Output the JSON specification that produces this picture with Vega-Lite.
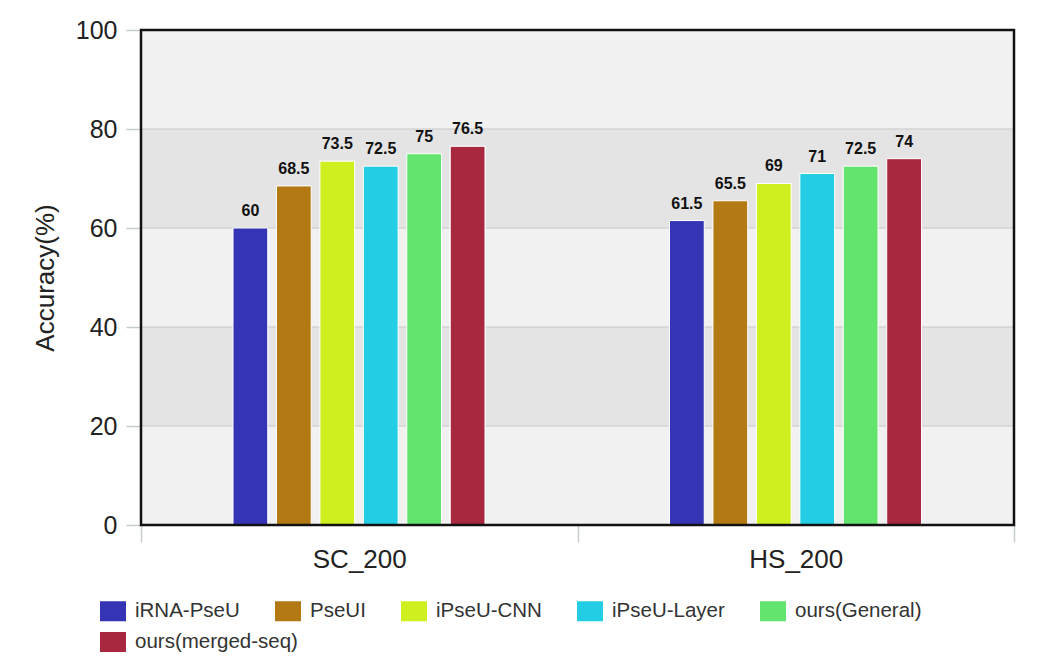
{
  "$schema": "https://vega.github.io/schema/vega-lite/v6.json",
  "width": 873,
  "height": 495,
  "autosize": {"type": "none"},
  "padding": {"left": 141, "top": 30, "right": 24, "bottom": 137},
  "background": "white",
  "config": {
    "view": {"stroke": null},
    "font": "Liberation Sans",
    "legend": {
      "orient": "none",
      "direction": "horizontal",
      "title": null,
      "symbolType": "M-1,-0.77H1V0.77H-1Z",
      "symbolSize": 676,
      "symbolStrokeWidth": 0,
      "symbolOpacity": 1,
      "labelFontSize": 20.5,
      "labelFont": "Liberation Sans",
      "labelColor": "#333",
      "labelOffset": 9,
      "columnPadding": 35,
      "labelLimit": 400
    },
    "axisY": {
      "grid": false,
      "domain": false,
      "tickSize": 15,
      "tickColor": "#c4ccd0",
      "tickWidth": 1.5,
      "labelFontSize": 25,
      "labelColor": "#222",
      "labelPadding": 9,
      "titleFontSize": 26,
      "titleFontWeight": "normal",
      "titleColor": "#222",
      "titlePadding": 17
    },
    "axisX": {
      "grid": false,
      "domain": false,
      "tickBand": "extent",
      "tickSize": 17,
      "tickColor": "#c4ccd0",
      "tickWidth": 1.5,
      "labelFontSize": 26,
      "labelColor": "#222",
      "labelPadding": 4,
      "labelAngle": 0,
      "title": null
    }
  },
  "datasets": {
    "bars": [
      {"dataset": "SC_200", "method": "iRNA-PseU", "acc": 60},
      {"dataset": "SC_200", "method": "PseUI", "acc": 68.5},
      {"dataset": "SC_200", "method": "iPseU-CNN", "acc": 73.5},
      {"dataset": "SC_200", "method": "iPseU-Layer", "acc": 72.5},
      {"dataset": "SC_200", "method": "ours(General)", "acc": 75},
      {"dataset": "SC_200", "method": "ours(merged-seq)", "acc": 76.5},
      {"dataset": "HS_200", "method": "iRNA-PseU", "acc": 61.5},
      {"dataset": "HS_200", "method": "PseUI", "acc": 65.5},
      {"dataset": "HS_200", "method": "iPseU-CNN", "acc": 69},
      {"dataset": "HS_200", "method": "iPseU-Layer", "acc": 71},
      {"dataset": "HS_200", "method": "ours(General)", "acc": 72.5},
      {"dataset": "HS_200", "method": "ours(merged-seq)", "acc": 74}
    ],
    "bands": [{"lo": 20, "hi": 40}, {"lo": 60, "hi": 80}],
    "frame": [{"f": 1}]
  },
  "layer": [
    {
      "data": {"name": "frame"},
      "mark": {"type": "rect", "fill": "#f1f1f1", "strokeWidth": 0},
      "encoding": {}
    },
    {
      "data": {"name": "bands"},
      "mark": {"type": "rect", "fill": "#e4e4e4", "stroke": "#c8c8c8", "strokeWidth": 1.2},
      "encoding": {
        "y": {"field": "lo", "type": "quantitative", "scale": {"domain": [0, 100], "nice": false}, "title": "Accuracy(%)", "axis": {"values": [0, 20, 40, 60, 80, 100]}},
        "y2": {"field": "hi"}
      }
    },
    {
      "data": {"name": "bars"},
      "mark": {"type": "bar", "stroke": "white", "strokeWidth": 1},
      "encoding": {
        "x": {"field": "dataset", "type": "nominal", "sort": ["SC_200", "HS_200"], "scale": {"paddingInner": 0, "paddingOuter": 0}},
        "xOffset": {"field": "method", "type": "nominal", "sort": ["iRNA-PseU", "PseUI", "iPseU-CNN", "iPseU-Layer", "ours(General)", "ours(merged-seq)"], "scale": {"range": [92, 344], "paddingInner": 0.2, "paddingOuter": 0}},
        "y": {"field": "acc", "type": "quantitative", "stack": null, "title": "Accuracy(%)", "axis": {"values": [0, 20, 40, 60, 80, 100]}},
        "color": {
          "field": "method",
          "type": "nominal",
          "scale": {
            "domain": ["iRNA-PseU", "PseUI", "iPseU-CNN", "iPseU-Layer", "ours(General)", "ours(merged-seq)"],
            "range": ["#3434b4", "#b37a13", "#d0ef1e", "#23cde3", "#63e46e", "#a8283f"]
          },
          "legend": {
            "legendX": -41,
            "legendY": 568,
            "values": ["iRNA-PseU", "PseUI", "iPseU-CNN", "iPseU-Layer", "ours(General)"]
          }
        }
      }
    },
    {
      "data": {"name": "bars"},
      "transform": [{"filter": "datum.method === 'ours(merged-seq)'"}],
      "mark": {"type": "bar", "stroke": "white", "strokeWidth": 1},
      "encoding": {
        "x": {"field": "dataset", "type": "nominal", "sort": ["SC_200", "HS_200"], "scale": {"paddingInner": 0, "paddingOuter": 0}},
        "xOffset": {"field": "method", "type": "nominal", "sort": ["iRNA-PseU", "PseUI", "iPseU-CNN", "iPseU-Layer", "ours(General)", "ours(merged-seq)"], "scale": {"range": [92, 344], "paddingInner": 0.2, "paddingOuter": 0}},
        "y": {"field": "acc", "type": "quantitative", "stack": null, "title": "Accuracy(%)", "axis": {"values": [0, 20, 40, 60, 80, 100]}},
        "fill": {
          "field": "method",
          "type": "nominal",
          "scale": {"domain": ["ours(merged-seq)"], "range": ["#a8283f"]},
          "legend": {"legendX": -41, "legendY": 599}
        }
      }
    },
    {
      "data": {"name": "bars"},
      "mark": {"type": "text", "dy": -9, "baseline": "bottom", "fontWeight": "bold", "fontSize": 16, "color": "#111"},
      "encoding": {
        "x": {"field": "dataset", "type": "nominal", "sort": ["SC_200", "HS_200"], "scale": {"paddingInner": 0, "paddingOuter": 0}},
        "xOffset": {"field": "method", "type": "nominal", "sort": ["iRNA-PseU", "PseUI", "iPseU-CNN", "iPseU-Layer", "ours(General)", "ours(merged-seq)"], "scale": {"range": [92, 344], "paddingInner": 0.2, "paddingOuter": 0}},
        "y": {"field": "acc", "type": "quantitative", "stack": null, "title": "Accuracy(%)", "axis": {"values": [0, 20, 40, 60, 80, 100]}},
        "text": {"field": "acc", "type": "quantitative"}
      }
    },
    {
      "data": {"name": "frame"},
      "mark": {"type": "rect", "fill": null, "stroke": "#111", "strokeWidth": 2.5},
      "encoding": {}
    }
  ]
}
